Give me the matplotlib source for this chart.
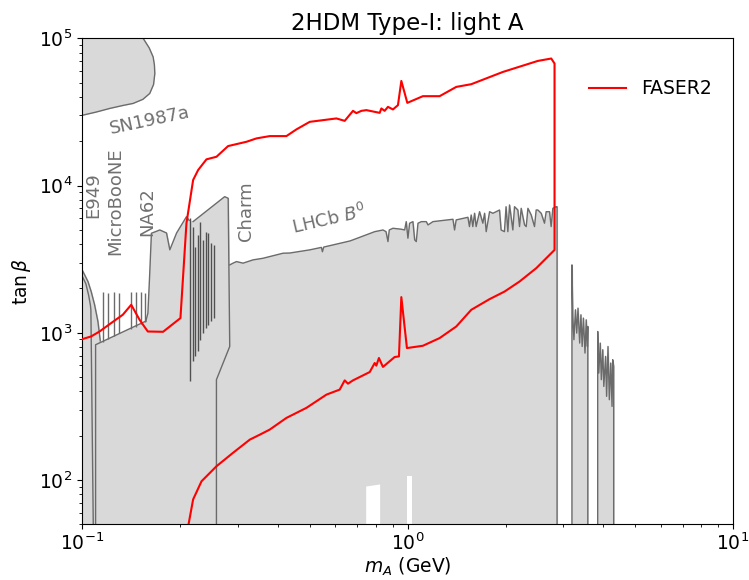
import numpy as np
import matplotlib.pyplot as plt

# ============================================================
# Values: m_A in GeV, tan(beta)
# ============================================================

# FASER2 reach, upper part (left edge -> top right corner)
faser2_upper_m = [0.1, 0.1064, 0.1129, 0.1226, 0.1331, 0.1413, 0.1499, 0.1589, 0.1770,
                  0.2002, 0.2089, 0.2190, 0.2269, 0.2407, 0.2584, 0.2805, 0.3195, 0.3428,
                  0.3767, 0.4239, 0.455, 0.500, 0.6039, 0.6405, 0.6792, 0.6957, 0.7208,
                  0.7467, 0.8204, 0.8302, 0.8497, 0.8700, 0.9012, 0.9337, 0.9563, 0.9977,
                  1.114, 1.254, 1.411, 1.569, 1.963, 2.513, 2.764, 2.829]
faser2_upper_tanb = [906, 944, 1020, 1164, 1325, 1549, 1225, 1020, 1015,
                     1258, 5540, 10900, 12740, 15060, 15680, 18530, 19820, 20890,
                     21660, 21660, 24050, 27070, 28550, 27490, 32150, 31010, 32150,
                     32510, 31160, 33380, 32150, 34220, 32860, 35140, 51340, 36420,
                     40440, 40440, 46750, 48770, 59080, 70180, 72860, 67380]

# FASER2 reach, lower part (right edge -> bottom)
faser2_lower_m = [2.829, 2.485, 2.208, 1.986, 1.786, 1.569, 1.411, 1.254, 1.114, 0.995,
                  0.9563, 0.9404, 0.912, 0.8396, 0.816, 0.8011, 0.792, 0.7646, 0.6792,
                  0.6555, 0.6405, 0.6181, 0.5627, 0.4884, 0.4239, 0.3767, 0.3509, 0.3271,
                  0.2905, 0.2584, 0.2324, 0.219, 0.2113]
faser2_lower_tanb = [3653, 2745, 2228, 1905, 1692, 1432, 1103, 920, 816, 787,
                     1746, 691, 684, 586, 674, 598, 623, 541, 475,
                     451, 475, 411, 380, 309, 264, 220, 203, 188,
                     153, 124, 98, 73.8, 48]

# SN1987a boundary
sn_m = [0.1, 0.11, 0.1215, 0.1335, 0.1432, 0.1535, 0.1611, 0.1655, 0.167, 0.1665,
        0.165, 0.1605, 0.1537]
sn_tanb = [30000, 31500, 33400, 35000, 36100, 38500, 42200, 48500, 57600, 66000,
           74700, 86000, 100000]

# E949 (outer and inner boundary)
e949_m = [0.1, 0.104, 0.1064, 0.109, 0.1116, 0.1135]
e949_tanb = [2650, 2230, 1906, 1550, 1195, 880]
e949_inner_m = [0.1, 0.1025, 0.1045, 0.1058, 0.1062, 0.108]
e949_inner_tanb = [2410, 2150, 1800, 1550, 1430, 50]

# MicroBooNE
mb_m = [0.1098, 0.1098, 0.1567]
mb_tanb = [50, 829, 1200]
mb_spike_m = [0.1156, 0.1198, 0.125, 0.130, 0.1406, 0.1457, 0.1516, 0.1553]
mb_spike_lo = [870, 905, 950, 990, 1060, 1100, 1150, 1180]
mb_spike_hi = [1880, 1870, 1880, 1870, 1900, 1890, 1880, 1870]

# NA62
na62_m = [0.1567, 0.159, 0.161, 0.163, 0.173, 0.1814, 0.1857, 0.1948, 0.2089, 0.2129, 0.219]
na62_tanb = [1200, 1360, 2470, 4740, 4990, 4760, 3660, 4760, 6140, 5800, 5690]

# CHARM
charm_m = [0.219, 0.2738, 0.2807, 0.2838, 0.2583, 0.2583]
charm_tanb = [5690, 8400, 8190, 807, 480, 50]
charm_spike_m = [0.2139, 0.2182, 0.2222, 0.2264, 0.2307, 0.2350, 0.2395, 0.2441, 0.2486, 0.2535]
charm_spike_lo = [468, 639, 691, 747, 897, 995, 1076, 1133, 1193, 1258]
charm_spike_hi = [6000, 5260, 3850, 4620, 5685, 4275, 4860, 4740, 4060, 3950]

# LHCb B0 upper edge
lhcb_m = [0.2838, 0.2905, 0.2977, 0.3119, 0.3346, 0.359, 0.414, 0.434, 0.500, 0.543,
          0.547, 0.552, 0.5895, 0.664, 0.679, 0.792, 0.840, 0.858, 0.870, 0.878,
          0.901, 0.956, 0.979, 0.990, 1.002, 1.014, 1.038, 1.051, 1.063, 1.076,
          1.102, 1.141, 1.155, 1.196, 1.378, 1.394, 1.410, 1.532, 1.549, 1.568,
          1.586, 1.606, 1.624, 1.664, 1.703, 1.724, 1.744, 1.786, 1.828, 1.871,
          1.916, 1.938, 1.984, 2.007, 2.033, 2.057, 2.106, 2.131, 2.182, 2.208,
          2.234, 2.288, 2.315, 2.343, 2.398, 2.455, 2.484, 2.513, 2.574, 2.635,
          2.666, 2.730, 2.762, 2.795, 2.861, 2.88]
lhcb_tanb = [2890, 2970, 3044, 2970, 3126, 3205, 3470, 3480, 3656, 3800,
             3550, 3820, 3950, 4200, 4275, 4860, 4990, 4860, 4160, 4990,
             5125, 5050, 4990, 5685, 4385, 5545, 5685, 4275, 4160, 5545,
             5685, 5685, 5400, 5685, 5900, 4990, 5840, 6085, 5260, 6310,
             5260, 6480, 5260, 6640, 5545, 6480, 4860, 6640, 6480, 6640,
             6820, 4990, 4860, 7180, 4860, 7380, 4990, 7180, 6820, 5260,
             7000, 5400, 5260, 7000, 6310, 5260, 6820, 6820, 6480, 5545,
             6640, 6640, 5260, 7000, 7180, 7180]

# two narrow regions above the LHCb edge
r1_m = [3.20, 3.20, 3.22, 3.245, 3.28, 3.31, 3.34, 3.38, 3.41, 3.44, 3.47, 3.51, 3.54, 3.57, 3.58, 3.58]
r1_tanb = [50, 2890, 1290, 897, 1432, 995, 1470, 851, 1325, 807, 1258, 728, 1225, 807, 1104, 50]
r2_m = [3.84, 3.84, 3.87, 3.91, 3.94, 3.98, 4.01, 4.06, 4.09, 4.13, 4.17, 4.21, 4.25, 4.27, 4.30, 4.30]
r2_tanb = [50, 1020, 533, 851, 480, 767, 432, 691, 370, 807, 351, 623, 316, 656, 591, 50]

# white gaps at the bottom of the LHCb region
gap1_m = [0.743, 0.820]
gap1_tanb = [91, 94]
gap2_m = [0.998, 1.034]
gap2_tanb = [107, 107]

# region labels: text, m, tanb, rotation
labels = [("SN1987a", 0.161, 27800, 12),
          ("E949", 0.1077, 8620, 90),
          ("MicroBooNE", 0.1258, 7850, 90),
          ("NA62", 0.1578, 6600, 90),
          ("Charm", 0.318, 6710, 90),
          ("LHCb $B^0$", 0.576, 5840, 13)]

FILL = '#d9d9d9'
EDGE = '#6b6b6b'
FLOOR = 10.0

# ============================================================
# Plot
# ============================================================

fig = plt.figure(figsize=(7.49, 5.80), dpi=100)
ax = fig.add_axes([0.110, 0.096, 0.8685, 0.838])
ax.set_xscale('log')
ax.set_yscale('log')

# grey excluded regions: fills first (edge in fill colour to hide seams)
ax.fill([0.09] + sn_m + [0.09], [sn_tanb[0]] + sn_tanb + [1.2e5],
        facecolor=FILL, edgecolor=FILL, lw=0.8, zorder=1)
regions = [([0.09] + e949_m, [e949_tanb[0]] + e949_tanb),
           (mb_m, mb_tanb),
           (na62_m, na62_tanb),
           (charm_m[:4], charm_tanb[:4]),
           (lhcb_m, lhcb_tanb),
           (r1_m, r1_tanb),
           (r2_m, r2_tanb)]
for m, t in regions:
    ax.fill_between(m, t, FLOOR, facecolor=FILL, edgecolor=FILL, lw=0.8, zorder=1)

ax.fill_between(gap1_m, gap1_tanb, FLOOR, color='white', lw=0, zorder=1.5)
ax.fill_between(gap2_m, gap2_tanb, FLOOR, color='white', lw=0, zorder=1.5)

# outlines
ax.plot(sn_m, sn_tanb, color=EDGE, lw=1, zorder=2)
ax.plot(e949_m, e949_tanb, color=EDGE, lw=1, zorder=2)
ax.plot(e949_inner_m, e949_inner_tanb, color=EDGE, lw=1, zorder=2)
ax.plot(mb_m, mb_tanb, color=EDGE, lw=1, zorder=2)
ax.plot(na62_m[:-1], na62_tanb[:-1], color=EDGE, lw=1, zorder=2)
ax.plot(charm_m, charm_tanb, color=EDGE, lw=1, zorder=2)
ax.plot(lhcb_m + [lhcb_m[-1]], lhcb_tanb + [FLOOR], color=EDGE, lw=1, zorder=2)
ax.plot(r1_m, r1_tanb, color=EDGE, lw=1, zorder=2)
ax.plot(r2_m, r2_tanb, color=EDGE, lw=1, zorder=2)

# resonance spikes
ax.vlines(mb_spike_m, mb_spike_lo, mb_spike_hi, color=EDGE, lw=1, zorder=2)
ax.vlines(charm_spike_m, charm_spike_lo, charm_spike_hi, color='#505050', lw=1, zorder=2)

# FASER2 contour
ax.plot(faser2_upper_m + faser2_lower_m, faser2_upper_tanb + faser2_lower_tanb,
        color='red', lw=1.5, zorder=3, label='FASER2')

for text, m, t, rot in labels:
    ax.text(m, t, text, rotation=rot, color='#707070', fontsize=13,
            ha='center', va='center', zorder=4)

ax.set_xlim(0.1, 10)
ax.set_ylim(50, 1e5)
ax.set_xlabel('$m_A$ (GeV)', fontsize=13.5, labelpad=1)
ax.set_ylabel(r'$\tan\beta$', fontsize=13.5)
ax.set_title('2HDM Type-I: light A', fontsize=16.5)
ax.tick_params(labelsize=13.5)
ax.tick_params(axis='x', pad=2.5)
ax.legend(loc='upper right', bbox_to_anchor=(0.994, 0.95), frameon=False, fontsize=13.5)

plt.savefig('out.png', dpi=100)
